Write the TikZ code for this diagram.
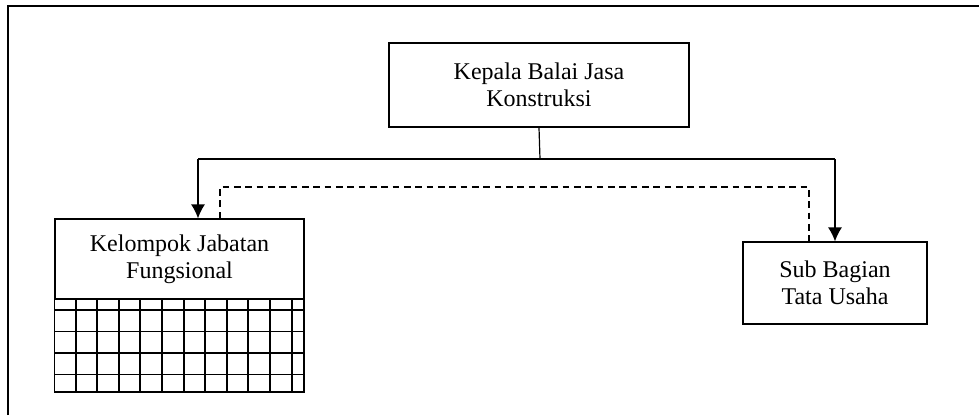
\documentclass[tikz,border=0pt]{standalone}
\usepackage{fontspec}
\setmainfont{Liberation Serif}
\usetikzlibrary{arrows.meta}
\tikzset{>=latex}
\tikzset{
  unit/.style={draw, line width=0.8pt, align=center, inner sep=0pt,
    font=\fontsize{18}{20.5}\selectfont},
  garis/.style={line width=1.2pt},
  panah/.style={garis, -{Latex[length=10.5pt,width=10.5pt]}},
  putus/.style={line width=0.9pt, dash pattern=on 5pt off 3.5pt},
  kotak/.style={line width=1.4pt}
}

\begin{document}
\begin{tikzpicture}[x=0.75pt, y=-0.75pt]
\useasboundingbox (0,0) rectangle (979,415);

% bingkai
\draw[line width=1.5pt] (8,415) -- (8,6) -- (979,6);

% unit kerja
\node[unit, minimum width=225pt, minimum height=63pt] (kepala) at (539,85)
  {Kepala Balai Jasa\\Konstruksi};
\node[unit, minimum width=186.75pt, minimum height=60pt] (fungsional) at (179.5,259)
  {Kelompok Jabatan\\Fungsional};
\node[unit, minimum width=138pt, minimum height=61.5pt] (subbag) at (835,283)
  {Sub Bagian\\Tata Usaha};

% kisi-kisi di bawah kelompok jabatan fungsional
\draw[line width=1.2pt] (fungsional.south west) rectangle (304,392);
\foreach \x in {1,...,11}
  \draw[kotak] (54+21.6*\x,299) -- (54+21.6*\x,392);
\foreach \y in {310,331.5,353,374.5}
  \draw[kotak] (54,\y) -- (304,\y);

% garis komando
\coordinate (bus) at (540,159);
\coordinate (kiri) at (198,159);
\coordinate (kanan) at (835,159);
\draw[line width=0.9pt] (kepala.south) -- (bus);
\draw[garis] (kiri) -- (kanan);
\draw[panah] (kiri) -- (kiri |- fungsional.north);
\draw[panah] (kanan) -- (subbag.north);

% garis koordinasi
\coordinate (koorL) at (220,187);
\coordinate (koorR) at (809,187);
\draw[putus] (koorL |- fungsional.north) -- (koorL) -- (koorR) -- (koorR |- subbag.north);
\end{tikzpicture}
\end{document}
